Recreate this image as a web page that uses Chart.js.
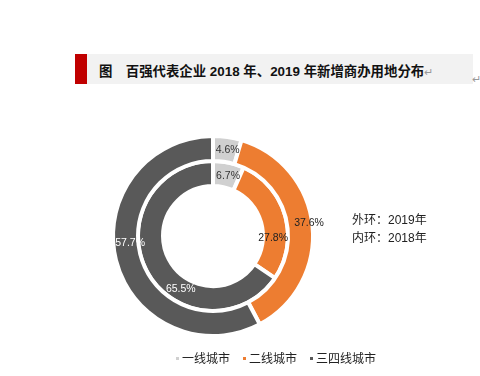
<!DOCTYPE html>
<html>
<head>
<meta charset="utf-8">
<script src="https://cdn.jsdelivr.net/npm/chart.js@4"></script>
<style>
  body { margin:0; width:480px; height:376px; background:#fff; overflow:hidden;
         font-family:"Liberation Sans","Noto Sans CJK SC",sans-serif; position:relative; }
  #bar { position:absolute; left:75px; top:54px; width:12px; height:30px; background:#C00000; }
  #band { position:absolute; left:87px; top:54px; width:386px; height:30px; background:#F2F2F2; }
  #title { position:absolute; left:99px; top:60px; font-size:13.4px; font-weight:bold; color:#111; white-space:nowrap; }
  .pm { color:#999; font-weight:normal; font-size:11px; }
  #pm2 { position:absolute; left:472px; top:73px; color:#999; font-size:11px; }
  #note { position:absolute; left:352px; top:211px; font-size:12px; line-height:18px; color:#222; }
  #wrap { position:absolute; left:0; top:0; width:480px; height:376px; }
  #legend { position:absolute; left:176px; top:349px; font-size:12px; color:#222; white-space:nowrap; }
  #legend span.it { margin-right:13px; }
  #legend i { display:inline-block; width:3px; height:3px; margin-right:3px; vertical-align:middle; position:relative; top:-1px; }
</style>
</head>
<body>
<div id="bar"></div>
<div id="band"></div>
<div id="title">图　百强代表企业 2018 年、2019 年新增商办用地分布<span class="pm">↵</span></div>
<div id="pm2">↵</div>
<div id="wrap"><canvas id="myChart"></canvas></div>
<div id="note">外环：2019年<br>内环：2018年</div>
<div id="legend"></div>
<script>
// categories
var cities = ["一线城市", "二线城市", "三四线城市"];
// share of new commercial land, %
var ring2019 = [4.6, 37.6, 57.7];
var ring2018 = [6.7, 27.8, 65.5];
var colors = ["#D0D0D0", "#ED7D31", "#595959"];
var labelColors = ["#333333", "#222222", "#FFFFFF"];
// small nudges so labels sit where the original put them [ring][slice] -> [dx, dy]
var labelNudge = [
  [[2, 1], [9, -4], [2, -14]],
  [[2, 1], [0, 19], [23, 24]]
];

var legend = document.getElementById("legend");
for (var i = 0; i < cities.length; i++) {
  legend.innerHTML += '<span class="it"><i style="background:' + colors[i] + '"></i>' + cities[i] + '</span>';
}

// draws the percent labels in the middle of each arc
var pctLabels = {
  id: "pctLabels",
  afterDatasetsDraw: function(chart) {
    var ctx = chart.ctx;
    ctx.save();
    ctx.font = '10.5px "Liberation Sans", sans-serif';
    ctx.textAlign = "center";
    ctx.textBaseline = "middle";
    chart.data.datasets.forEach(function(ds, d) {
      chart.getDatasetMeta(d).data.forEach(function(arc, k) {
        var p = arc.tooltipPosition();
        var n = labelNudge[d][k];
        ctx.fillStyle = labelColors[k];
        ctx.fillText(ds.data[k].toFixed(1) + "%", p.x + n[0], p.y + n[1]);
      });
    });
    ctx.restore();
  }
};

var ctx = document.getElementById("myChart");
var myChart = new Chart(ctx, {
  type: 'doughnut',
  data: {
    labels: cities,
    datasets: [
      { data: ring2019, backgroundColor: colors, borderColor: "#fff", borderWidth: 4 },
      { data: ring2018, backgroundColor: colors, borderColor: "#fff", borderWidth: 4 }
    ]
  },
  options: {
    responsive: true,
    maintainAspectRatio: false,
    animation: false,
    radius: 100,
    cutout: "50%",
    layout: { padding: { left: 113, right: 167, top: 136, bottom: 40 } },
    plugins: {
      legend: { display: false },
      tooltip: { enabled: false }
    }
  },
  plugins: [pctLabels]
});
</script>
</body>
</html>
